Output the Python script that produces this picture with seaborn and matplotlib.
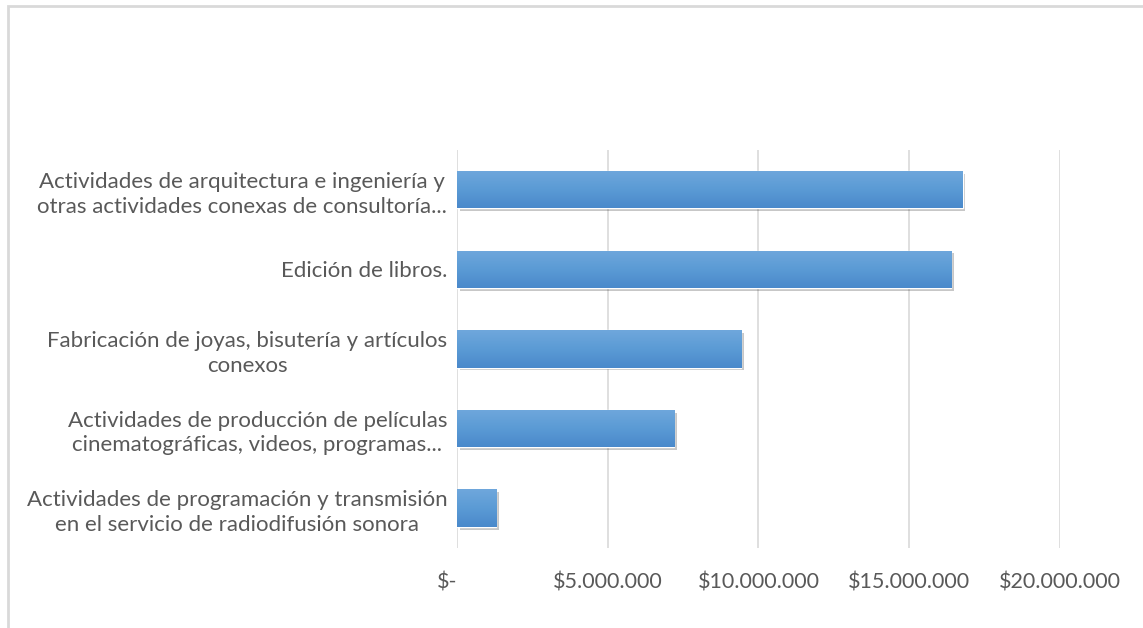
import seaborn as sns
import numpy as np
import pandas as pd
import matplotlib
matplotlib.use("Agg")
import matplotlib.pyplot as plt
import matplotlib.patheffects as pe
from matplotlib.patches import Rectangle
from matplotlib.ticker import FuncFormatter

# data
actividades = [
    "Actividades de arquitectura e ingeniería y\notras actividades conexas de consultoría...",
    "Edición de libros.",
    "Fabricación de joyas, bisutería y artículos\nconexos",
    "Actividades de producción de películas\ncinematográficas, videos, programas...",
    "Actividades de programación y transmisión\nen el servicio de radiodifusión sonora",
]
valores = [16770000, 16400000, 9430000, 7200000, 1300000]

sns.set_theme(style="white")
plt.rcParams['font.family'] = ['Lato', 'DejaVu Sans']

df = pd.DataFrame({"actividad": actividades, "valor": valores})

fig = plt.figure(figsize=(11.43, 6.28), dpi=100)
ax = fig.add_axes([0.3998, 0.1274, 0.5276, 0.6338])

ax = sns.barplot(data=df, y="actividad", x="valor", color="#5B9BD5",
                 width=0.47, saturation=1, ax=ax, zorder=3)

# gradient fill + soft shadow for each bar (Excel style)
grad = np.linspace(0, 1, 64).reshape(-1, 1)
cmap = matplotlib.colors.LinearSegmentedColormap.from_list(
    "azul", ["#6FA7DC", "#5B9BD5", "#4A89CB"])
for bar in list(ax.patches):
    bar.set_path_effects([pe.SimplePatchShadow(offset=(2, -2), shadow_rgbFace="#000000",
                                               alpha=0.22), pe.Normal()])
    x0, y0 = bar.get_x(), bar.get_y()
    w, h = bar.get_width(), bar.get_height()
    im = ax.imshow(grad, cmap=cmap, aspect="auto", extent=(x0, x0 + w, y0 + h, y0),
                   zorder=4, interpolation="bicubic")
    im.set_clip_path(bar)

ax.set_xlim(0, 20000000)
ax.set_ylim(4.5, -0.5)
ax.set_xticks([0, 5000000, 10000000, 15000000, 20000000])


def pesos(v, pos):
    if v == 0:
        return "$-"
    return "$" + f"{int(v):,}".replace(",", ".")


ax.xaxis.set_major_formatter(FuncFormatter(pesos))
ax.grid(axis="x", color="#D9D9D9", linewidth=1.2, zorder=0)
ax.grid(axis="y", visible=False)
ax.set_axisbelow(True)
for s in ax.spines.values():
    s.set_visible(False)
ax.set_xlabel("")
ax.set_ylabel("")
ax.tick_params(axis="both", length=0, colors="#595959")
ax.tick_params(axis="x", pad=18, labelsize=15.5)
ax.tick_params(axis="y", pad=7, labelsize=16)
for lbl in ax.get_yticklabels():
    lbl.set_multialignment("center")
    lbl.set_linespacing(1.3)
ax.get_xticklabels()[0].set_horizontalalignment("right")

# chart area border
fig.add_artist(Rectangle((8 / 1143, -0.05), 1.2, 1 - 6 / 628 + 0.05,
                         transform=fig.transFigure, fill=False,
                         edgecolor="#D9D9D9", linewidth=2))

fig.savefig("out.png", dpi=100)
